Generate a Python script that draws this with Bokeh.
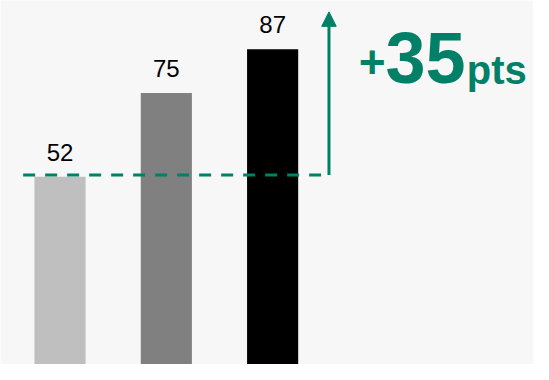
from bokeh.plotting import figure
from bokeh.models import Range1d, ColumnDataSource, Arrow, NormalHead
from bokeh.core.properties import value
from bokeh.embed import file_html
from bokeh.resources import INLINE

# ---- data ----
categories = ["A", "B", "C"]
values = [52, 75, 87]
bar_colors = ["#BFBFBF", "#808080", "#000000"]
labels = [str(v) for v in values]
delta = values[-1] - values[0]          # 35
delta_prefix = "+"
delta_text = str(delta)
delta_unit = "pts"

GREEN = "#008066"
BG = "#F7F7F7"
FONT = value("Liberation Sans")

xs = list(range(len(values)))

p = figure(width=533, height=364, output_backend="svg", toolbar_location=None,
           x_range=Range1d(-0.560, 4.454), y_range=Range1d(0.42, 100.42),
           x_axis_location=None, y_axis_location=None,
           min_border=0, background_fill_color=BG, border_fill_color=BG)
p.grid.visible = False
p.outline_line_color = None

src = ColumnDataSource(dict(x=xs, top=values, color=bar_colors, label=labels))
p.vbar(x="x", top="top", bottom=0, width=0.481, fill_color="color",
       line_color=None, source=src)
p.text(x="x", y="top", text="label", source=src, text_align="center",
       text_baseline="middle", y_offset=-24.7,
       text_font=FONT, text_font_size="24px", text_color="black")

# reference level (first bar) and arrow up towards the last bar level
arrow_x = 2.530
level = values[0] + 0.45
p.line(x=[-0.347, arrow_x], y=[level, level], line_dash="12 10",
       line_width=3, line_color=GREEN)
p.add_layout(Arrow(end=NormalHead(size=14.5, fill_color=GREEN, line_color=GREEN,
                                  line_width=1),
                   x_start=arrow_x, y_start=level, x_end=arrow_x, y_end=97.3,
                   line_color=GREEN, line_width=3))

# annotation "+35pts"
p.text(x=[arrow_x], y=[83.5], text=[delta_prefix], x_offset=29.8,
       text_align="left", text_baseline="middle",
       text_font=FONT, text_font_style="bold",
       text_font_size="46px", text_color=GREEN)
p.text(x=[arrow_x], y=[84.5], text=[delta_text], x_offset=56.5,
       text_align="left", text_baseline="middle",
       text_font=FONT, text_font_style="bold",
       text_font_size="72px", text_color=GREEN)
p.text(x=[arrow_x], y=[81.45], text=[delta_unit], x_offset=137.8,
       text_align="left", text_baseline="middle",
       text_font=FONT, text_font_style="bold",
       text_font_size="40px", text_color=GREEN)

open("out.html", "w").write(file_html(p, INLINE))
